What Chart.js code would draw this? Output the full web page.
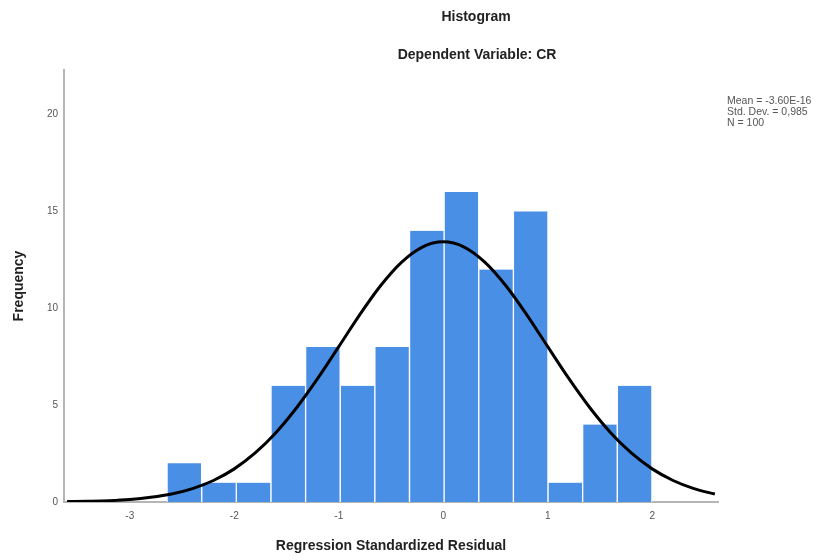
<!DOCTYPE html>
<html>
<head>
<meta charset="utf-8">
<script src="https://cdn.jsdelivr.net/npm/chart.js@4"></script>
<style>
  html, body { margin: 0; padding: 0; background: #fff; }
  #wrap { width: 825px; height: 560px; }
</style>
</head>
<body>
<div id="wrap"><canvas id="hist"></canvas></div>
<script>
// bin centres of the histogram (width about 0.33)
var binCenters = [-2.478, -2.146, -1.815, -1.483, -1.152, -0.820, -0.489, -0.157, 0.174, 0.506, 0.837, 1.169, 1.500, 1.832];
var frequency = [2, 1, 1, 6, 8, 6, 8, 14, 16, 12, 15, 1, 4, 6];

// normal curve
var curveX = [-3.6, -3.4, -3.2, -3.0, -2.8, -2.6, -2.4, -2.2, -2.0, -1.8, -1.6, -1.4, -1.2, -1.0, -0.8, -0.6, -0.4, -0.2,
              0, 0.2, 0.4, 0.6, 0.8, 1.0, 1.2, 1.4, 1.6, 1.8, 2.0, 2.2, 2.4, 2.6];
var curveY = [0.02, 0.04, 0.07, 0.13, 0.24, 0.41, 0.69, 1.11, 1.71, 2.53, 3.59, 4.89, 6.39, 8.02, 9.66, 11.16, 12.37, 13.16,
              13.43, 13.16, 12.37, 11.16, 9.66, 8.02, 6.39, 4.89, 3.59, 2.53, 1.71, 1.11, 0.69, 0.41];

var xTicks = [-3, -2, -1, 0, 1, 2];
var yTicks = [0, 5, 10, 15, 20];

var titleLines = ['Histogram', 'Dependent Variable: CR'];
var statsLines = ['Mean = -3.60E-16', 'Std. Dev. = 0,985', 'N = 100'];

function bars()
{
   var d = [];
   for (var i = 0; i < binCenters.length; i++)
   {
      d.push({x: binCenters[i], y: frequency[i]});
   }
   return d;
}
function curve()
{
   var d = [];
   for (var i = 0; i < curveX.length; i++)
   {
      d.push({x: curveX[i], y: curveY[i]});
   }
   return d;
}

var textPlugin = {
   id: 'texts',
   afterDraw: function (chart)
   {
      var ctx = chart.ctx;
      ctx.save();
      ctx.fillStyle = '#222';
      ctx.textAlign = 'center';
      ctx.textBaseline = 'middle';
      ctx.font = 'bold 14px "Liberation Sans", Arial, sans-serif';
      ctx.fillText(titleLines[0], 476, 17);
      ctx.fillText(titleLines[1], 477, 55);

      ctx.fillStyle = '#555';
      ctx.textAlign = 'left';
      ctx.font = '10.5px "Liberation Sans", Arial, sans-serif';
      for (var i = 0; i < statsLines.length; i++)
      {
         ctx.fillText(statsLines[i], 727, 101 + i * 11);
      }
      ctx.restore();
   }
};

new Chart(document.getElementById('hist'),
{
   type: 'bar',
   data: {
      datasets: [
      {
         type: 'line',
         data: curve(),
         borderColor: '#000',
         borderWidth: 3,
         pointRadius: 0,
         fill: false,
         tension: 0.4,
         cubicInterpolationMode: 'monotone',
         order: 0
      },
      {
         type: 'bar',
         data: bars(),
         backgroundColor: '#4a8fe6',
         borderColor: '#fff',
         borderWidth: {left: 1, right: 1, top: 0, bottom: 0},
         borderSkipped: false,
         barPercentage: 1,
         categoryPercentage: 1,
         grouped: false,
         order: 1
      }]
   },
   options: {
      responsive: true,
      maintainAspectRatio: false,
      animation: false,
      events: [],
      layout: { padding: { left: 0, right: 107, top: 70, bottom: 0 } },
      plugins: {
         legend: { display: false },
         tooltip: { enabled: false }
      },
      scales: {
         x: {
            type: 'linear',
            min: -3.63,
            max: 2.63,
            offset: false,
            grid: { display: false, drawTicks: false },
            border: { display: true, color: '#b5b5b5', width: 2 },
            afterBuildTicks: function (scale)
            {
               scale.ticks = xTicks.map(function (v) { return {value: v}; });
            },
            afterFit: function (scale) { scale.height = 58; },
            ticks: {
               color: '#555',
               padding: 8,
               font: { family: '"Liberation Sans", Arial, sans-serif', size: 10 }
            },
            title: {
               display: true,
               text: 'Regression Standardized Residual',
               color: '#222',
               padding: { top: 4, bottom: 5 },
               font: { family: '"Liberation Sans", Arial, sans-serif', size: 14, weight: 'bold' }
            }
         },
         y: {
            min: 0,
            max: 22.3,
            grid: { display: false, drawTicks: false },
            border: { display: true, color: '#b5b5b5', width: 2 },
            afterBuildTicks: function (scale)
            {
               scale.ticks = yTicks.map(function (v) { return {value: v}; });
            },
            afterFit: function (scale) { scale.width = 64; },
            ticks: {
               color: '#555',
               padding: 6,
               font: { family: '"Liberation Sans", Arial, sans-serif', size: 10 }
            },
            title: {
               display: true,
               text: 'Frequency',
               color: '#222',
               padding: { top: 11, bottom: 4 },
               font: { family: '"Liberation Sans", Arial, sans-serif', size: 14, weight: 'bold' }
            }
         }
      }
   },
   plugins: [textPlugin]
});
</script>
</body>
</html>
